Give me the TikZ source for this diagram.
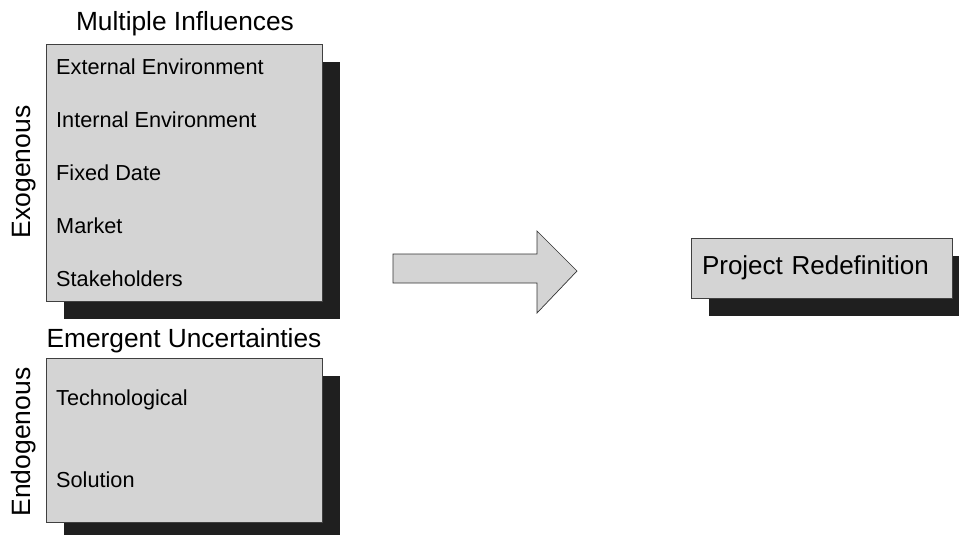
\documentclass[tikz,border=0pt]{standalone}
\usepackage{fontspec}
\setmainfont{Liberation Sans}
\usetikzlibrary{shadows}
\begin{document}
\begin{tikzpicture}[x=1pt,y=-1pt,
  panel/.style={draw=black!75, line width=0.7pt, fill=black!17,
    anchor=north west, inner sep=0pt,
    drop shadow={shadow xshift=18pt, shadow yshift=-18pt, fill=black!88, opacity=1}},
  heading/.style={font=\fontsize{26.3}{30}\selectfont, inner sep=0pt},
  item/.style={font=\fontsize{21.7}{25}\selectfont, anchor=west, inner sep=0pt},
  side/.style={font=\fontsize{26.5}{30}\selectfont, rotate=90, inner sep=0pt},
  blockarrow/.style={draw=black!80, line width=0.7pt, fill=black!17}]
\useasboundingbox (0,0) rectangle (959,535);
\begin{scope}
\clip (0,0) rectangle (959,535);

% exogenous group
\node[heading] (mtitle) at (185,24) {Multiple Influences};
\node[panel, minimum width=276pt, minimum height=257pt] (exo) at (46,44) {};
\node[item] (ext) at (56,67) {External Environment};
\node[item] (int) at (56,120) {Internal Environment};
\node[item] (fix) at (56,173) {Fixed Date};
\node[item] (mkt) at (56,226) {Market};
\node[item] (stk) at (56,279) {Stakeholders};
\node[side] (exolab) at (24,172) {Exogenous};

% endogenous group
\node[heading] (etitle) at (184,341) {Emergent Uncertainties};
\node[panel, minimum width=276pt, minimum height=164pt] (endo) at (46,358) {};
\node[item] (tech) at (56,400) {Technological};
\node[item] (sol) at (56,480) {Solution};
\node[side] (endolab) at (24,442) {Endogenous};

% block arrow
\draw[blockarrow] (393,254) -- (537,254) -- (537,231) -- (577,271)
  -- (537,313) -- (537,283) -- (393,283) -- cycle;

% result
\node[panel, anchor=center, inner xsep=11pt, text width=239pt, align=left,
  minimum height=60pt, font=\fontsize{26}{30}\selectfont]
  (proj) at (821.5,268) {Project Redefinition};
\end{scope}
\end{tikzpicture}
\end{document}
